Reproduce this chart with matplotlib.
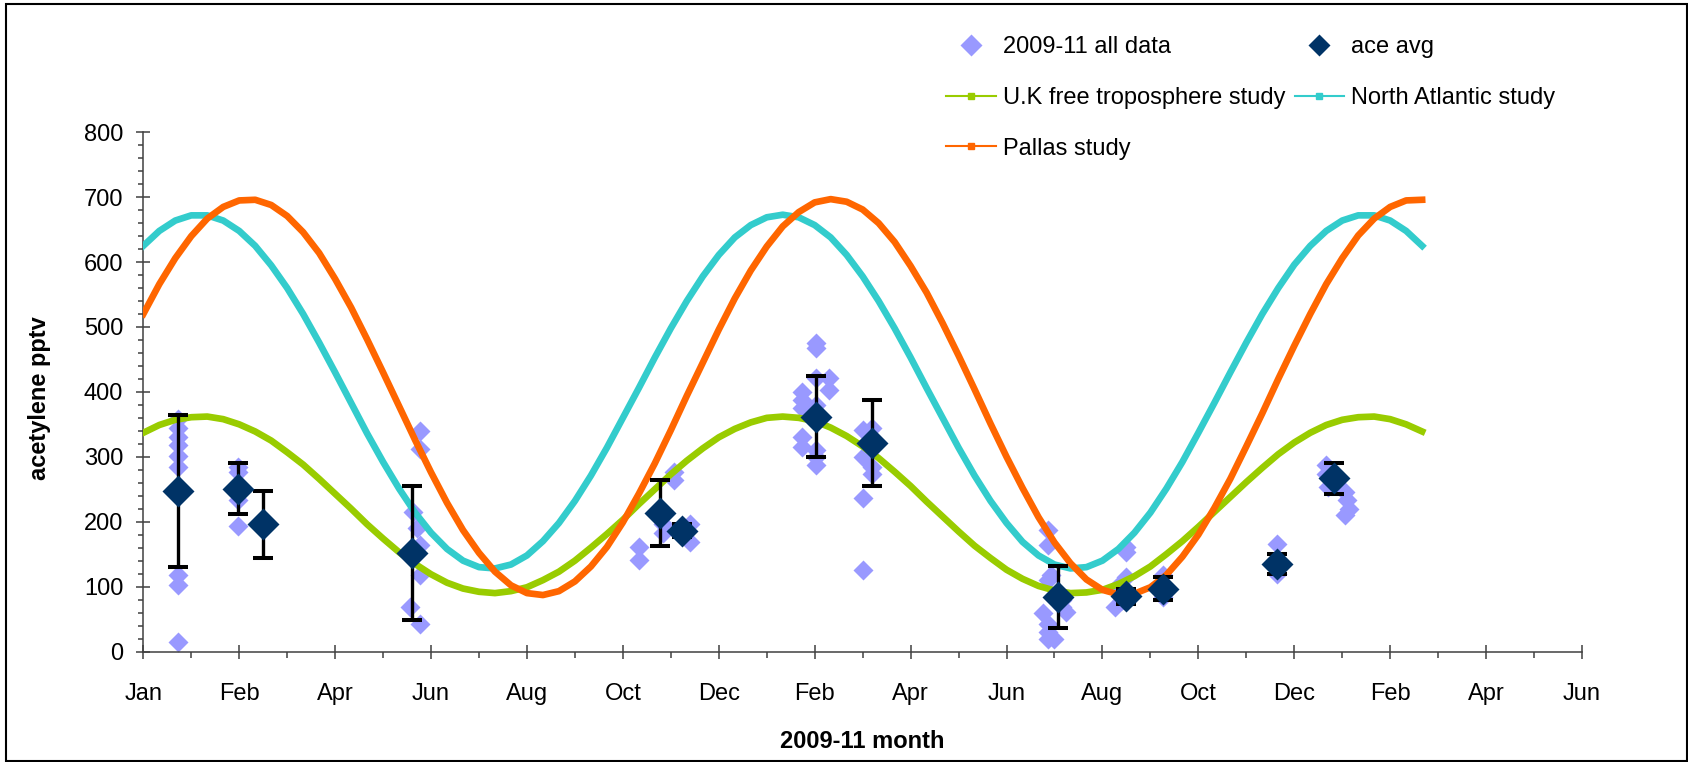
import matplotlib.pyplot as plt
from matplotlib.lines import Line2D
from matplotlib.patches import Rectangle
from matplotlib.ticker import MultipleLocator

plt.rcParams['font.family'] = ['Liberation Sans', 'DejaVu Sans']

# x axis is in days from the start of the axis, a labelled tick every 60 days
month_labels = ['Jan', 'Feb', 'Apr', 'Jun', 'Aug', 'Oct', 'Dec',
                'Feb', 'Apr', 'Jun', 'Aug', 'Oct', 'Dec', 'Feb', 'Apr', 'Jun']

curve_days = list(range(0, 801, 10))
uk_free_trop = [337, 349, 357, 361, 362, 358, 350, 339, 325, 307,
                288, 266, 243, 220, 196, 174, 153, 135, 119, 106,
                97, 92, 90, 93, 99, 110, 123, 140, 160, 181,
                203, 227, 250, 273, 294, 313, 330, 343, 353, 360,
                362, 360, 355, 345, 332, 316, 298, 277, 255, 231,
                208, 185, 163, 144, 126, 112, 101, 94, 90, 91,
                95, 104, 116, 131, 150, 170, 192, 215, 238, 261,
                283, 304, 322, 337, 349, 357, 361, 362, 358, 350, 339]
north_atlantic = [625, 648, 664, 672, 672, 664, 648, 625, 595, 560,
                  520, 476, 430, 383, 336, 292, 251, 214, 183, 158,
                  140, 130, 128, 134, 148, 170, 198, 232, 271, 314,
                  360, 406, 453, 498, 540, 578, 611, 638, 657, 669,
                  673, 669, 657, 638, 611, 578, 540, 498, 453, 406,
                  360, 314, 271, 232, 198, 169, 148, 134, 128, 130,
                  140, 158, 183, 214, 251, 292, 337, 383, 430, 476,
                  520, 560, 596, 625, 648, 664, 672, 672, 664, 648, 625]
pallas = [520, 566, 606, 640, 667, 685, 695, 696, 688, 671,
          646, 614, 574, 530, 481, 430, 378, 326, 276, 229,
          187, 152, 123, 102, 90, 87, 93, 108, 131, 161,
          199, 243, 290, 341, 394, 445, 496, 544, 587, 624,
          655, 677, 692, 697, 693, 681, 660, 631, 594, 553,
          506, 456, 404, 351, 300, 252, 207, 168, 136, 111,
          95, 88, 89, 99, 118, 146, 180, 221, 266, 316,
          367, 420, 471, 520, 566, 606, 641, 667, 685, 695, 696]

# all individual samples 2009-11
all_days = [22, 22, 22, 22, 22, 22, 22, 22, 22,
            59, 59, 59, 59, 59,
            75,
            173, 173, 169, 171, 173, 173, 167, 173,
            310, 310, 332, 332, 325, 325, 342, 342,
            412, 412, 412, 412, 412, 421, 421, 421, 421, 421, 421, 421, 429, 429,
            450, 450, 450, 450, 456, 456, 456,
            566, 566, 568, 566, 575, 577, 563, 566, 566, 566, 570, 575,
            615, 615, 615, 609, 608, 612,
            638, 638,
            709, 709,
            740, 740, 741, 752, 753, 754, 752]
all_vals = [358, 345, 330, 318, 301, 285, 118, 102, 15,
            285, 277, 250, 233, 193,
            196,
            339, 312, 215, 190, 164, 118, 69, 43,
            161, 141, 277, 264, 197, 182, 197, 169,
            400, 387, 375, 331, 315, 475, 467, 421, 380, 310, 300, 287, 421, 403,
            341, 300, 236, 125, 344, 285, 274,
            187, 164, 118, 110, 69, 61, 59, 43, 30, 20, 20, 80,
            161, 154, 115, 100, 69, 79,
            118, 84,
            166, 120,
            287, 274, 254, 246, 233, 220, 210]

# campaign averages with error bars
avg_days = [22, 59, 75, 168, 323, 337, 421, 456, 572, 615, 638, 709, 745]
avg_vals = [247, 251, 196, 152, 214, 186, 362, 321, 84, 85, 97, 135, 267]
avg_err = [117, 39, 52, 103, 51, 10, 63, 66, 48, 12, 18, 15, 24]

light = '#9999FF'
dark = '#003366'
green = '#99CC00'
teal = '#33CCCC'
orange = '#FF6600'

fig = plt.figure(figsize=(16.88, 7.62), dpi=100)
ax = fig.add_axes([0.0849, 0.1450, 0.8523, 0.6814])

ax.plot(all_days, all_vals, ls='none', marker='D', ms=10.5, mfc=light, mec='none', zorder=2)
ax.plot(curve_days, uk_free_trop, color=green, lw=4.8, zorder=3, solid_joinstyle='round')
ax.plot(curve_days, north_atlantic, color=teal, lw=4.8, zorder=3, solid_joinstyle='round')
ax.plot(curve_days, pallas, color=orange, lw=4.8, zorder=3, solid_joinstyle='round')
ax.errorbar(avg_days, avg_vals, yerr=avg_err, fmt='D', ms=16.5, mfc=dark, mec='none',
            ecolor='black', elinewidth=2.4, capsize=7, capthick=2.9, zorder=4)

ax.set_xlim(0, 900)
ax.set_ylim(0, 800)
ax.set_xticks(range(0, 901, 60), month_labels)
ax.xaxis.set_minor_locator(MultipleLocator(30))
ax.yaxis.set_major_locator(MultipleLocator(100))
ax.yaxis.set_minor_locator(MultipleLocator(20))

for s in ['top', 'right']:
    ax.spines[s].set_visible(False)
for s in ['left', 'bottom']:
    ax.spines[s].set_color('#404040')
    ax.spines[s].set_linewidth(1.1)

ax.tick_params(axis='x', which='major', direction='inout', length=10, width=1.1,
               color='#404040', pad=17.5, labelsize=17)
ax.tick_params(axis='x', which='minor', direction='out', length=4.3, width=1.1, color='#404040')
ax.tick_params(axis='y', which='major', direction='inout', length=9.6, width=1.1,
               color='#404040', pad=9.6, labelsize=17)
ax.tick_params(axis='y', which='minor', direction='out', length=3.6, width=1.1, color='#404040')

fig.text(40 / 1688, 1 - 398 / 762, 'acetylene pptv', rotation=90, ha='center', va='center',
         fontsize=17, fontweight='bold')
fig.text(862.6 / 1688, 1 - 742 / 762, '2009-11 month', ha='center', va='center',
         fontsize=17, fontweight='bold')

# legend, filled row by row like the original
handles = [
    Line2D([], [], ls='none', marker='D', ms=11, mfc=light, mec='none'),
    Line2D([], [], color=green, lw=1.5, marker='s', ms=4, mec=green),
    Line2D([], [], color=orange, lw=1.5, marker='s', ms=4, mec=orange),
    Line2D([], [], ls='none', marker='D', ms=11, mfc=dark, mec='none'),
    Line2D([], [], color=teal, lw=1.5, marker='s', ms=4, mec=teal),
]
labels = ['2009-11 all data', 'U.K free troposphere study', 'Pallas study',
          'ace avg', 'North Atlantic study']
fig.legend(handles, labels, ncol=2, loc='upper left', bbox_to_anchor=(946 / 1688, 1 - 36 / 762),
           frameon=False, fontsize=17, handlelength=2.1, handletextpad=0.3,
           columnspacing=0.4, labelspacing=1.22, borderpad=0, borderaxespad=0)

fig.patches.append(Rectangle((6 / 1688, 1 / 762), 1680.5 / 1688, 757 / 762,
                             transform=fig.transFigure, fill=False, ec='black', lw=1.5))

fig.savefig('out.png', dpi=100)
